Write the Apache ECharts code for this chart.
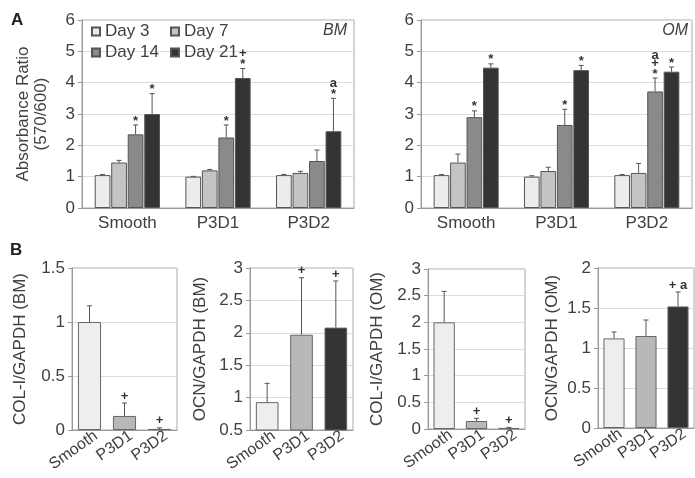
<!DOCTYPE html>
<html lang="en">
<head>
<meta charset="utf-8">
<title>Absorbance ratio and gene expression</title>
<script src="https://cdn.jsdelivr.net/npm/echarts@6/dist/echarts.min.js"></script>
<style>
  html, body { margin: 0; padding: 0; background: #fff; }
  #chart { width: 695px; height: 478px; }
</style>
</head>
<body>
<div id="chart"></div>
<script>
var surfaces = ['Smooth', 'P3D1', 'P3D2'];
var days = ['Day 3', 'Day 7', 'Day 14', 'Day 21'];

// Panel A, BM medium (rows = days, columns = surfaces)
var bmMean = [
  [1.05, 1.00, 1.05],
  [1.45, 1.20, 1.12],
  [2.35, 2.25, 1.50],
  [3.00, 4.15, 2.45]
];
var bmErrTop = [
  [1.07, 1.01, 1.07],
  [1.52, 1.23, 1.17],
  [2.65, 2.65, 1.85],
  [3.65, 4.45, 3.50]
];
// marks listed bottom to top
var bmMarks = [
  ['', '', ''],
  ['', '', ''],
  ['*', '*', ''],
  ['*', '*+', '*a']
];

// Panel A, OM medium
var omMean = [
  [1.05, 1.00, 1.05],
  [1.45, 1.18, 1.12],
  [2.90, 2.65, 3.72],
  [4.48, 4.40, 4.35]
];
var omErrTop = [
  [1.07, 1.03, 1.07],
  [1.72, 1.30, 1.42],
  [3.10, 3.15, 4.15],
  [4.60, 4.55, 4.50]
];
var omMarks = [
  ['', '', ''],
  ['', '', ''],
  ['*', '*', '*+a'],
  ['*', '*', '*']
];

// Panel B
var colBmMean = [1.00, 0.13, 0.01];
var colBmErrTop = [1.15, 0.25, 0.02];
var colBmMarks = ['', '+', '+'];

var ocnBmMean = [0.93, 1.97, 2.08];
var ocnBmErrTop = [1.22, 2.85, 2.80];
var ocnBmMarks = ['', '+', '+'];

var colOmMean = [2.00, 0.15, 0.02];
var colOmErrTop = [2.58, 0.20, 0.03];
var colOmMarks = ['', '+', '+'];

var ocnOmMean = [1.12, 1.15, 1.52];
var ocnOmErrTop = [1.20, 1.35, 1.70];
var ocnOmMarks = ['', '', '+ a'];

var font = '"Liberation Sans", Arial, sans-serif';
var textColor = '#404040';
var dayColors = ['#ececec', '#c4c4c4', '#8a8a8a', '#333333'];
var surfColors = ['#eeeeee', '#b8b8b8', '#333333'];

var chart = echarts.init(document.getElementById('chart'), null, { renderer: 'canvas' });

var grids = [
  { left: 82, top: 20, width: 272, height: 188 },
  { left: 421, top: 20, width: 271, height: 188 },
  { left: 72, top: 268, width: 105, height: 162 },
  { left: 250, top: 268, width: 103, height: 162 },
  { left: 428, top: 269, width: 97, height: 160 },
  { left: 598, top: 268, width: 96, height: 160 }
].map(function (g) {
  g.show = true;
  g.borderColor = '#a8a8a8';
  g.borderWidth = 1;
  return g;
});

function xAxisFor(gi, rotate) {
  var label = {
    fontSize: 17, color: textColor, fontFamily: font,
    rotate: 0, margin: 7, interval: 0
  };
  if (rotate) {
    label.fontSize = 16;
    label.rotate = rotate;
    label.margin = 9;
    label.padding = [0, -8, 0, 0];
  }
  return {
    type: 'category', gridIndex: gi, data: surfaces,
    axisLine: { lineStyle: { color: '#999' } },
    axisTick: { show: false },
    axisLabel: label
  };
}

function yAxisFor(gi, min, max, interval, name, gap) {
  return {
    type: 'value', gridIndex: gi, min: min, max: max, interval: interval,
    name: name, nameLocation: 'middle', nameGap: gap,
    nameTextStyle: { fontSize: 17, color: textColor, fontFamily: font, lineHeight: 18 },
    axisLine: { show: true, lineStyle: { color: '#999' } },
    axisTick: { show: true, length: 4, lineStyle: { color: '#999' } },
    axisLabel: { fontSize: 17, color: textColor, fontFamily: font, margin: 7 },
    splitLine: { lineStyle: { color: '#dcdcdc' } }
  };
}

// error bar + significance marks, drawn through the axes
function errorSeries(gi, means, tops, marks, n, idx, catGap, barGap) {
  return {
    type: 'custom', xAxisIndex: gi, yAxisIndex: gi, z: 5, silent: true,
    data: means.map(function (m, i) { return [i, m, tops[i]]; }),
    renderItem: function (params, api) {
      var cat = api.value(0);
      var p0 = api.coord([cat, api.value(1)]);
      var p1 = api.coord([cat, api.value(2)]);
      var band = api.size([1, 0])[0];
      var group = band * (1 - catGap);
      var w = group / (n + (n - 1) * barGap);
      var x = p0[0] - group / 2 + w / 2 + idx * w * (1 + barGap);
      var children = [
        { type: 'line', shape: { x1: x, y1: p0[1], x2: x, y2: p1[1] }, style: { stroke: '#555', lineWidth: 1 } },
        { type: 'line', shape: { x1: x - 2.5, y1: p1[1], x2: x + 2.5, y2: p1[1] }, style: { stroke: '#555', lineWidth: 1 } }
      ];
      var mark = marks[params.dataIndex];
      var stack = mark.indexOf(' ') >= 0 ? [mark] : mark.split('');
      stack.forEach(function (s, k) {
        var y = p1[1] - 7 - k * 8;
        if (s === '*') y += 3;
        children.push({
          type: 'text',
          style: {
            text: s, x: x, y: y, align: 'center', verticalAlign: 'middle',
            fontSize: 13, fontWeight: 'bold', fill: '#333', fontFamily: font
          }
        });
      });
      return { type: 'group', children: children };
    }
  };
}

var series = [];

// panel A bars
[[0, bmMean, bmErrTop, bmMarks], [1, omMean, omErrTop, omMarks]].forEach(function (p) {
  days.forEach(function (d, i) {
    series.push({
      name: d, type: 'bar', xAxisIndex: p[0], yAxisIndex: p[0],
      data: p[1][i], barGap: '5%', barCategoryGap: '28%',
      itemStyle: { color: dayColors[i], borderColor: '#555', borderWidth: 1 }
    });
  });
  days.forEach(function (d, i) {
    series.push(errorSeries(p[0], p[1][i], p[2][i], p[3][i], 4, i, 0.28, 0.05));
  });
});

// panel B bars
[
  [2, colBmMean, colBmErrTop, colBmMarks],
  [3, ocnBmMean, ocnBmErrTop, ocnBmMarks],
  [4, colOmMean, colOmErrTop, colOmMarks],
  [5, ocnOmMean, ocnOmErrTop, ocnOmMarks]
].forEach(function (p) {
  series.push({
    type: 'bar', xAxisIndex: p[0], yAxisIndex: p[0], barCategoryGap: '34%', clip: true,
    data: p[1].map(function (v, i) {
      return { value: v, itemStyle: { color: surfColors[i] } };
    }),
    itemStyle: { borderColor: '#666', borderWidth: 1 }
  });
  series.push(errorSeries(p[0], p[1], p[2], p[3], 1, 0, 0.34, 0));
});

var legendBase = {
  orient: 'vertical', top: 23, padding: 0, itemGap: 4,
  itemWidth: 8, itemHeight: 8, icon: 'rect', selectedMode: false,
  textStyle: { fontSize: 17, color: textColor, fontFamily: font }
};

var option = {
  animation: false,
  backgroundColor: '#fff',
  grid: grids,
  xAxis: [xAxisFor(0), xAxisFor(1), xAxisFor(2, 35), xAxisFor(3, 35), xAxisFor(4, 35), xAxisFor(5, 35)],
  yAxis: [
    yAxisFor(0, 0, 6, 1, 'Absorbance Ratio\n(570/600)', 32),
    yAxisFor(1, 0, 6, 1, '', 40),
    yAxisFor(2, 0, 1.5, 0.5, 'COL-I/GAPDH (BM)', 43),
    yAxisFor(3, 0.5, 3, 0.5, 'OCN/GAPDH (BM)', 41),
    yAxisFor(4, 0, 3, 0.5, 'COL-I/GAPDH (OM)', 42),
    yAxisFor(5, 0, 2, 0.5, 'OCN/GAPDH (OM)', 37)
  ],
  legend: [
    Object.assign({ data: ['Day 3', 'Day 14'], left: 91 }, legendBase),
    Object.assign({ data: ['Day 7', 'Day 21'], left: 170 }, legendBase)
  ],
  graphic: [
    { type: 'text', left: 11, top: 12, style: { text: 'A', fontSize: 17, fontWeight: 'bold', fill: '#222', fontFamily: font } },
    { type: 'text', left: 10, top: 242, style: { text: 'B', fontSize: 17, fontWeight: 'bold', fill: '#222', fontFamily: font } },
    { type: 'text', right: 695 - 347, top: 23, style: { text: 'BM', fontSize: 16, fontStyle: 'italic', fill: textColor, fontFamily: font } },
    { type: 'text', right: 7, top: 23, style: { text: 'OM', fontSize: 16, fontStyle: 'italic', fill: textColor, fontFamily: font } }
  ],
  series: series
};

chart.setOption(option);
</script>
</body>
</html>
